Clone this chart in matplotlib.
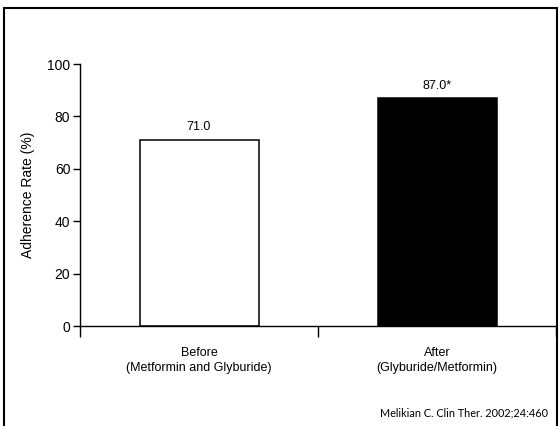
import matplotlib.pyplot as plt
from matplotlib.patches import Rectangle

# data
groups = ['Before\n(Metformin and Glyburide)', 'After\n(Glyburide/Metformin)']
rates = [71.0, 87.0]
value_labels = ['71.0', '87.0*']
bar_colors = ['white', 'black']
yticks = [0, 20, 40, 60, 80, 100]

plt.rcParams['font.family'] = ['Liberation Sans', 'DejaVu Sans']

fig = plt.figure(figsize=(5.6, 4.26), dpi=100)
ax = fig.add_axes([80 / 560, 1 - 326 / 426, 476 / 560, 262 / 426])

pos = list(range(len(groups)))
ax.bar(pos, rates, width=0.5, color=bar_colors, edgecolor='black', linewidth=1.1)

for p, r, lab in zip(pos, rates, value_labels):
    ax.text(p, r + 2.5, lab, ha='center', va='bottom', fontsize=9)

ax.set_xlim(-0.5, 1.5)
ax.set_ylim(0, 100)
ax.set_yticks(yticks)
ax.set_xticks([-0.5, 0.5, 1.5])
ax.set_xticklabels([])
ax.tick_params(axis='x', length=8, width=1, direction='out')
ax.tick_params(axis='y', length=5, width=1, direction='out', labelsize=10, pad=2)

# category labels under the bars
for p, g in zip(pos, groups):
    ax.text(p, -8, g, ha='center', va='top', fontsize=9, linespacing=1.3,
            transform=ax.transData)

ax.set_ylabel('Adherence Rate (%)', fontsize=10, labelpad=9)

for s in ['top', 'right']:
    ax.spines[s].set_visible(False)
for s in ['left', 'bottom']:
    ax.spines[s].set_linewidth(1)

# slide border
fig.patches.append(Rectangle((4 / 560, -0.05), 553 / 560, 1 - 8 / 426 + 0.05,
                             transform=fig.transFigure, fill=False,
                             edgecolor='black', linewidth=1.5))

fig.text(548 / 560, 1 - 413 / 426, 'Melikian C. Clin Ther. 2002;24:460',
         ha='right', va='center', fontsize=7.8, family=['Lato', 'DejaVu Sans'])

fig.savefig('out.png', dpi=100)
